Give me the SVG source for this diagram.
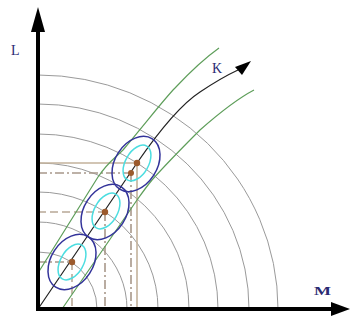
<svg xmlns="http://www.w3.org/2000/svg" width="350" height="322" viewBox="0 0 350 322">
<style>
.arc{fill:none;stroke:#9a9a9a;stroke-width:1}
.solid{fill:none;stroke:#c4b29c;stroke-width:1.6}
.dd{fill:none;stroke:#a8988a;stroke-width:1.6;stroke-dasharray:9 3 2 3}
.dash{fill:none;stroke:#b8a896;stroke-width:1.6;stroke-dasharray:8 4}
.outer{fill:none;stroke:#33339a;stroke-width:1.5}
.inner{fill:none;stroke:#4cdde0;stroke-width:1.5}
.dot{fill:#9c5a2c}
.green{fill:none;stroke:#5e9e5a;stroke-width:1.2}
.lbl{font-family:"Liberation Serif",serif;fill:#2a2a72}
</style>
<rect width="350" height="322" fill="#fff"/>
<g id="arcs">
<path class="arc" d="M38,252 A59,57 0 0 1 97,309"/>
<path class="arc" d="M38,222 A89,87 0 0 1 127,309"/>
<path class="arc" d="M38,192 A120,117 0 0 1 158,309"/>
<path class="arc" d="M38,163 A151,146 0 0 1 189,309"/>
<path class="arc" d="M38,134 A180,175 0 0 1 218,309"/>
<path class="arc" d="M38,104 A211,205 0 0 1 249,309"/>
<path class="arc" d="M38,75 A240,234 0 0 1 278,309"/>
</g>
<g id="guides">
<path class="solid" d="M38,163 H137 V309"/>
<path class="dd" d="M38,173 H131"/>
<path class="dd" d="M131,173 V309"/>
<path class="dash" d="M38,212 H105"/>
<path class="dd" d="M105,212 V309"/>
<path class="dd" d="M38,262 H72"/>
<path class="dash" d="M72,262 V309"/>
</g>
<g id="connectors">
<path class="green" d="M38,273 L98,177 C108,162 115,158 123,150 C145,124 165,98 175,88 C190,72 205,58 219,48"/>
<path class="green" d="M62,309 L137,200 C142,193 147,186 152,180 C168,162 185,145 200,130 C217,115 235,100 254,90"/>
<path fill="none" stroke="#222" stroke-width="1.2" d="M38,309 L137,163 C157,134 180,105 200,92 C212,84 225,76 238,70"/>
<polygon fill="#000" points="251,61 235,67 242,75"/>
</g>
<g id="node1">
<ellipse class="outer" cx="72" cy="262" rx="30" ry="21" transform="rotate(-57 72 262)"/>
<ellipse class="inner" cx="72" cy="262" rx="19.5" ry="11.5" transform="rotate(-60 72 262)"/>
<circle class="dot" cx="72" cy="262" r="3.2"/>
</g>
<g id="node2">
<ellipse class="outer" cx="105" cy="212" rx="30" ry="21" transform="rotate(-57 105 212)"/>
<ellipse class="inner" cx="106" cy="211" rx="19.5" ry="11.5" transform="rotate(-60 106 211)"/>
<circle class="dot" cx="105" cy="212" r="3.2"/>
</g>
<g id="node3">
<ellipse class="outer" cx="136" cy="164" rx="30" ry="21" transform="rotate(-57 136 164)"/>
<ellipse class="inner" cx="137" cy="163" rx="19.5" ry="11.5" transform="rotate(-60 137 163)"/>
<circle class="dot" cx="137" cy="163" r="3.2"/>
<circle class="dot" cx="131" cy="173" r="3"/>
</g>
<g id="axes">
<line x1="38" y1="311" x2="38" y2="28" stroke="#000" stroke-width="4"/>
<polygon fill="#000" points="38,7 31,32 45,32"/>
<line x1="36" y1="309" x2="334" y2="309" stroke="#000" stroke-width="4"/>
<polygon fill="#000" points="350,309 331,302 331,316"/>
</g>
<g id="labels">
<text class="lbl" x="11" y="55" font-size="14">L</text>
<text class="lbl" x="212" y="73" font-size="14">K</text>
<text class="lbl" x="314" y="295" font-size="12" font-weight="bold" textLength="17" lengthAdjust="spacingAndGlyphs">M</text>
</g>
</svg>
